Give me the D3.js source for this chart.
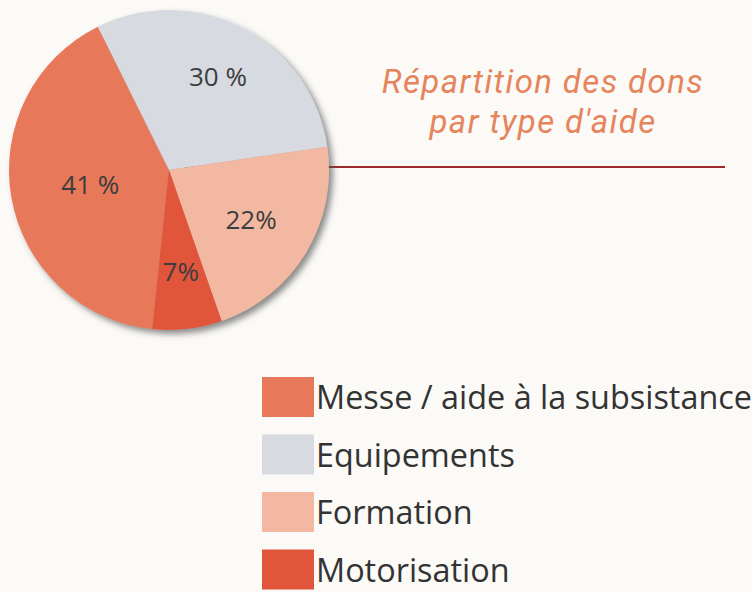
<!DOCTYPE html>
<html>
<head>
<meta charset="utf-8">
<script src="https://cdn.jsdelivr.net/npm/d3@7"></script>
<style>
  html, body { margin:0; padding:0; background:#fbfaf7; }
  svg { display:block; }
</style>
</head>
<body>
<div id="chart"></div>
<script>
// data
const categories = ["Messe / aide à la subsistance", "Equipements", "Formation", "Motorisation"];
const values = [41, 30, 22, 7];
const valueLabels = ["41 %", "30 %", "22%", "7%"];
const colors = ["#e8785a", "#d7dae1", "#f3b8a1", "#e1553b"];
const titleLines = ["Répartition des dons", "par type d'aide"];

// layout
const W = 752, H = 592;
const cx = 169, cy = 170, R = 160;
const labelR = [0.5, 0.66, 0.6, 0.64]; // label distance as fraction of radius

const svg = d3.select("#chart").append("svg").attr("width", W).attr("height", H);

const defs = svg.append("defs");
const f = defs.append("filter").attr("id","shadow").attr("x","-10%").attr("y","-10%").attr("width","130%").attr("height","130%");
f.append("feDropShadow").attr("dx",4).attr("dy",4).attr("stdDeviation",3)
  .attr("flood-color","#505050").attr("flood-opacity",0.65);

// red rule (behind the pie)
svg.append("line")
  .attr("x1", cx).attr("x2", 725)
  .attr("y1", 167).attr("y2", 167)
  .attr("stroke", "#9e2b2b").attr("stroke-width", 2);

const pie = d3.pie().sort(null).value(d => d)
  .startAngle(186 * Math.PI / 180)
  .endAngle(186 * Math.PI / 180 + 2 * Math.PI);
const arcs = pie(values);
const arc = d3.arc().innerRadius(0).outerRadius(R);

const g = svg.append("g").attr("transform", `translate(${cx},${cy})`);
const slices = g.append("g").attr("filter","url(#shadow)");
slices.selectAll("path").data(arcs).join("path")
  .attr("d", arc)
  .attr("fill", (d,i) => colors[i]);

g.selectAll("text.lbl").data(arcs).join("text")
  .attr("class","lbl")
  .attr("transform", (d,i) => {
    const r = R * labelR[i];
    return `translate(${d3.arc().innerRadius(r).outerRadius(r).centroid(d)})`;
  })
  .attr("text-anchor","middle")
  .attr("dy","0.36em")
  .style("font-family","'Open Sans', sans-serif")
  .style("font-size","26px")
  .style("fill","#3d3d3d")
  .text((d,i) => valueLabels[i]);

// title
svg.append("g").selectAll("text").data(titleLines).join("text")
  .attr("x", 543)
  .attr("y", (d,i) => 93 + i * 40)
  .attr("text-anchor","middle")
  .style("font-family","Roboto, sans-serif")
  .style("font-style","italic")
  .style("font-size","33px")
  .style("letter-spacing","1.4px")
  .style("fill","#e6845c")
  .text(d => d);

// legend
const leg = svg.append("g").attr("transform","translate(262,409)");
const rows = leg.selectAll("g").data(categories).join("g")
  .attr("transform", (d,i) => `translate(0,${i * 57.5})`);
rows.append("rect")
  .attr("x", 0).attr("y", -32).attr("width", 52).attr("height", 40)
  .attr("fill", (d,i) => colors[i]);
rows.append("text")
  .attr("x", 54)
  .style("font-family","'Open Sans', sans-serif")
  .style("font-size","32.4px")
  .style("fill","#333")
  .text(d => d);
</script>
</body>
</html>
